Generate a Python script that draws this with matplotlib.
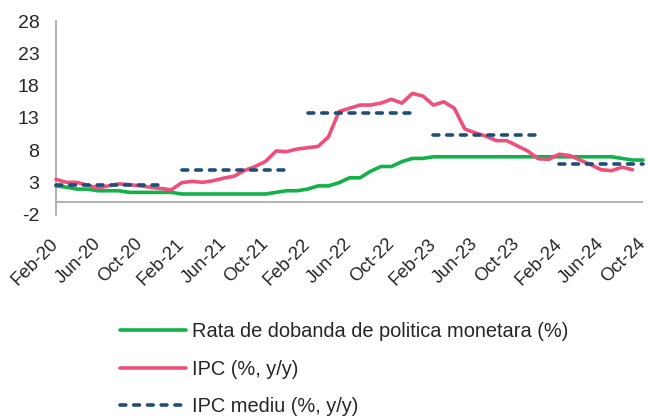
import matplotlib
matplotlib.use("Agg")
import matplotlib.pyplot as plt
import numpy as np

plt.rcParams['font.family'] = ['Liberation Sans', 'DejaVu Sans']
plt.rcParams['axes.unicode_minus'] = False

# monthly data, Feb-20 .. Oct-24
policy_rate = [2.5, 2.3, 2.0, 2.0, 1.75, 1.75, 1.75, 1.5, 1.5, 1.5, 1.5, 1.5,
               1.25, 1.25, 1.25, 1.25, 1.25, 1.25, 1.25, 1.25, 1.25, 1.5, 1.75, 1.75,
               2.0, 2.5, 2.5, 3.0, 3.75, 3.75, 4.75, 5.5, 5.5, 6.25, 6.75, 6.75,
               7.0, 7.0, 7.0, 7.0, 7.0, 7.0, 7.0, 7.0, 7.0, 7.0, 7.0, 7.0,
               7.0, 7.0, 7.0, 7.0, 7.0, 7.0, 6.75, 6.5, 6.5]

cpi = [3.5, 3.05, 3.05, 2.6, 2.2, 2.5, 2.8, 2.7, 2.5, 2.3, 2.1, 1.9,
       3.0, 3.2, 3.05, 3.3, 3.7, 4.0, 4.9, 5.5, 6.3, 7.9, 7.8, 8.2,
       8.4, 8.6, 10.1, 14.0, 14.5, 15.0, 15.0, 15.3, 15.9, 15.3, 16.8, 16.4,
       15.0, 15.5, 14.5, 11.3, 10.7, 10.2, 9.5, 9.5, 8.7, 7.9, 6.7, 6.6,
       7.4, 7.2, 6.5, 5.8, 5.0, 4.85, 5.4, 5.0, np.nan]

# yearly average, blank in January of each year
avg_by_year = [2.6, 5.0, 13.8, 10.4, 5.9]
months_in_year = [11, 11, 11, 11, 9]

cpi_avg = []
for i, (v, n) in enumerate(zip(avg_by_year, months_in_year)):
    if i > 0:
        cpi_avg.append(np.nan)
    cpi_avg += [v] * n

tick_labels = ['Feb-20', 'Jun-20', 'Oct-20', 'Feb-21', 'Jun-21', 'Oct-21', 'Feb-22',
               'Jun-22', 'Oct-22', 'Feb-23', 'Jun-23', 'Oct-23', 'Feb-24', 'Jun-24', 'Oct-24']

x = np.arange(len(policy_rate))

fig = plt.figure(figsize=(6.48, 4.18), dpi=100)
ax = fig.add_axes([56 / 648, 1 - 215 / 418, 587 / 648, 194 / 418])

green = '#12B248'
pink = '#EE4F7B'
navy = '#1F4E79'
gray = '#A6A6A6'

l1, = ax.plot(x, policy_rate, color=green, lw=2.6, solid_capstyle='round',
              clip_on=False, zorder=3, label='Rata de dobanda de politica monetara (%)')
l2, = ax.plot(x, cpi, color=pink, lw=2.6, solid_capstyle='round',
              clip_on=False, zorder=4, label='IPC (%, y/y)')
l3, = ax.plot(x[:len(cpi_avg)], cpi_avg, color=navy, lw=2.6, dashes=(1.6, 2.2),
              dash_capstyle='round', clip_on=False, zorder=5, label='IPC mediu (%, y/y)')

ax.axhline(0, color=gray, lw=1.2, zorder=1)

ax.set_xlim(0, 56)
ax.set_ylim(-2, 28)
ax.set_yticks(np.arange(-2, 29, 5))
ax.set_xticks(np.arange(0, 57, 4))
ax.set_xticklabels(tick_labels, rotation=45, ha='right', va='center',
                   rotation_mode='anchor')

for s in ['top', 'right', 'bottom']:
    ax.spines[s].set_visible(False)
ax.spines['left'].set_color(gray)
ax.spines['left'].set_linewidth(1.2)

ax.tick_params(axis='y', length=0, pad=12, labelsize=14, labelcolor='#262626')
ax.tick_params(axis='x', length=0, pad=19, labelsize=13.2, labelcolor='#262626')

fig.legend(handles=[l1, l2, l3], loc='upper left',
           bbox_to_anchor=(120 / 648, 1 - 322 / 418), frameon=False,
           borderpad=0, borderaxespad=0, handlelength=3.3, handletextpad=0.28,
           labelspacing=0.93, fontsize=14.4, labelcolor='#262626')

fig.savefig('out.png', dpi=100)
